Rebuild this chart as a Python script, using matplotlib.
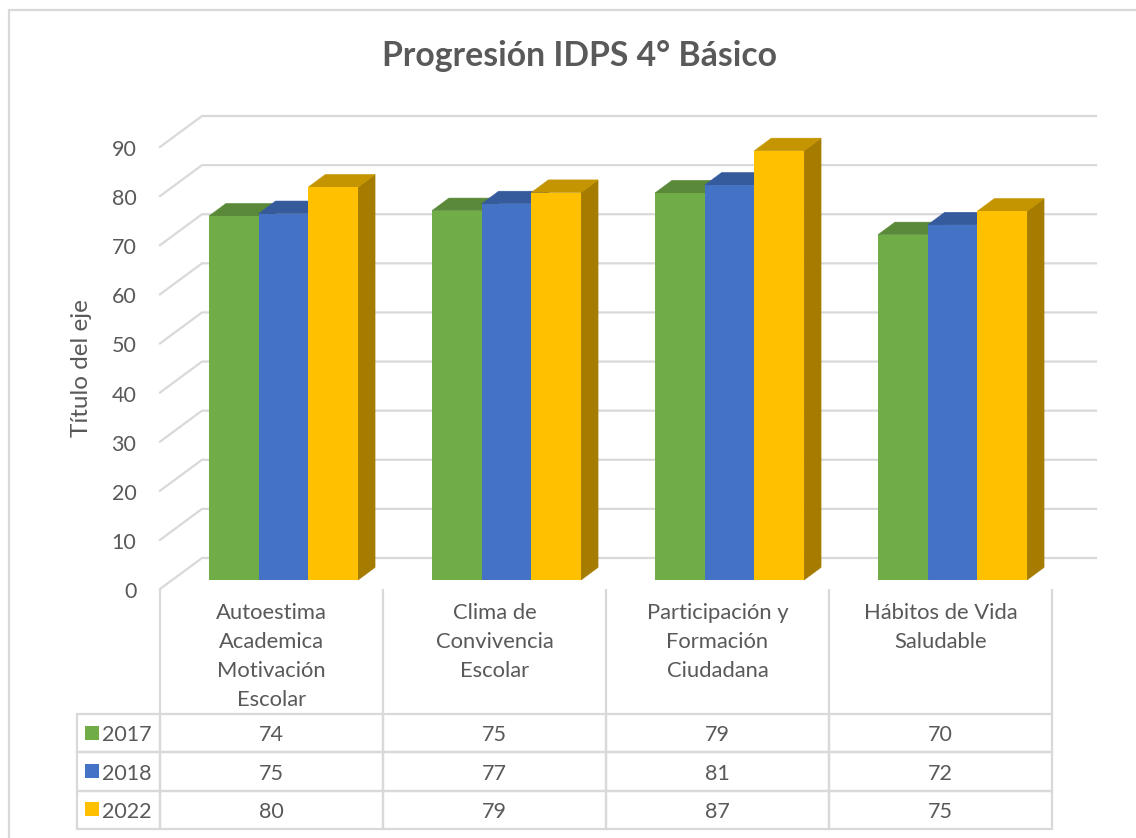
import matplotlib
matplotlib.use("Agg")
import matplotlib.pyplot as plt
from matplotlib.patches import Polygon, Rectangle
from matplotlib.transforms import ScaledTranslation

# datos del grafico
categorias = ["Autoestima\nAcademica\nMotivación\nEscolar", "Clima de\nConvivencia\nEscolar",
              "Participación y\nFormación\nCiudadana", "Hábitos de Vida\nSaludable"]
anios = ["2017", "2018", "2022"]
v2017 = [74, 75, 79, 70]
v2018 = [75, 77, 81, 72]
v2022 = [80, 79, 87, 75]
series = [v2017, v2018, v2022]
# la tabla muestra valores redondeados, la altura de las barras se lee del dibujo
altura2017 = [74.1, 75.2, 78.8, 70.3]
altura2018 = [74.6, 76.6, 80.4, 72.3]
altura2022 = [80.0, 78.9, 87.4, 75.1]
alturas = [altura2017, altura2018, altura2022]
ticks_y = list(range(0, 100, 10))

colores = ["#70AD47", "#4472C4", "#FFC000"]
techos = ["#5A8A39", "#365B9D", "#C49500"]
lados = ["#43682B", "#2F5597", "#A67C00"]
gris = "#595959"
linea = "#D9D9D9"

plt.rcParams["font.family"] = ["Lato", "DejaVu Sans"]

W, H = 1136, 838
fig = plt.figure(figsize=(W / 100, H / 100), dpi=100)

# marco exterior: solo arriba y a la izquierda
fig.add_artist(plt.Line2D([1, 9 / W, 9 / W], [1 - 10 / H, 1 - 10 / H, 0], color=linea, lw=1.6))

# el eje va de x=160 a x=1052 y de y=580 (valor 0) a y=138 (valor 90), en pixeles
ax = fig.add_axes([160 / W, 1 - 580 / H, 892 / W, 442 / H])
ax.set_xlim(0, 4)
ax.set_ylim(0, 90)
ax.patch.set_alpha(0)
for s in ax.spines.values():
    s.set_visible(False)

px_x = 4 / 892   # un pixel en unidades de x
px_y = 90 / 442  # un pixel en unidades de y

# rejilla en perspectiva
pared_x = 42 * px_x
fin_x = 936 * px_x
frente_y = -9 * px_y
pared_y = 22 * px_y
for v in ticks_y:
    ax.plot([0, pared_x, fin_x], [v + frente_y, v + pared_y, v + pared_y], color=linea, lw=1.6,
            clip_on=False, zorder=1)

# barras con cara superior y lateral
ancho = 49.7 * px_x
prof_x = 17 * px_x
prof_y = 12.6 * px_y
for j, vals in enumerate(alturas):
    for i, v in enumerate(vals):
        x0 = i + 0.5 + (j - 1.5) * ancho + 12 * px_x
        x1 = x0 + ancho
        ax.add_patch(Polygon([(x1, 0), (x1 + prof_x, prof_y), (x1 + prof_x, v + prof_y), (x1, v)],
                             fc=lados[j], ec=lados[j], lw=0.4, clip_on=False, zorder=2 + j))
        ax.add_patch(Polygon([(x0, v), (x1, v), (x1 + prof_x, v + prof_y), (x0 + prof_x, v + prof_y)],
                             fc=techos[j], ec=techos[j], lw=0.4, clip_on=False, zorder=2 + j))
        ax.bar(x0, v, width=ancho, align="edge", color=colores[j], clip_on=False, zorder=2.5 + j)

# eje y
ax.set_yticks(ticks_y)
ax.tick_params(axis="y", length=0, pad=17, labelsize=15.5, labelcolor=gris)
baja = ScaledTranslation(0, -10 / 100, fig.dpi_scale_trans)
for t in ax.get_yticklabels():
    t.set_transform(t.get_transform() + baja)
ax.set_ylabel("Título del eje", fontsize=17.5, color=gris)
ax.yaxis.set_label_coords(-68 / 892, 212 / 442)

# categorias
ax.set_xticks([i + 0.5 for i in range(4)])
ax.set_xticklabels(categorias, linespacing=1.56, fontsize=15.8, color=gris)
ax.tick_params(axis="x", length=0, pad=16.5)

# separadores de categorias
ax.vlines(range(5), -134 * px_y, frente_y, color=linea, lw=1.6, clip_on=False, zorder=1)

# tabla de datos (el bbox solo cuenta las columnas de datos)
tabla = ax.table(cellText=[[str(v) for v in vals] for vals in series], cellLoc="center", colWidths=[0.25] * 4,
                 bbox=[0, -249 / 442, 1, 115 / 442])
tabla.auto_set_font_size(False)
alto = tabla[0, 0].get_height()
for j, anio in enumerate(anios):
    tabla.add_cell(j, -1, width=83.3 / 892 , height=alto, text=anio, loc="right")
tabla.set_fontsize(15.5)
for key, celda in tabla.get_celld().items():
    celda.set_edgecolor(linea)
    celda.set_linewidth(1.6)
    celda.set_text_props(color=gris, va="center_baseline")
    celda.set_facecolor("none")

# marcas de leyenda dentro de la tabla
for j, c in enumerate(colores):
    y = 1 - (740 + j * 38) / H
    fig.add_artist(Rectangle((85 / W, y), 14 / W, 14 / H, transform=fig.transFigure, fc=c, ec="none"))

fig.suptitle("Progresión IDPS 4° Básico", x=580 / W, y=1 - 56 / H, va="center", fontsize=24.3,
             fontweight="bold", color=gris)

fig.savefig("out.png", dpi=100)
